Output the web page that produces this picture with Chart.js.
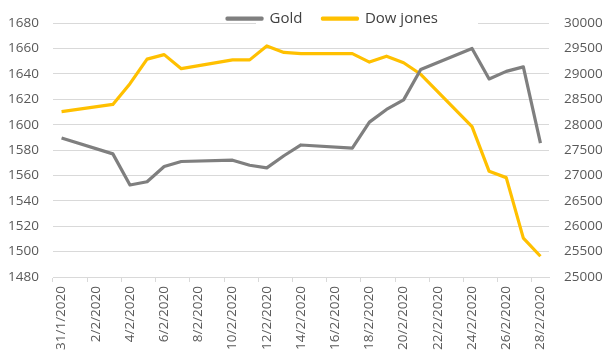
<!DOCTYPE html>
<html>
<head>
<meta charset="utf-8">
<script src="https://cdn.jsdelivr.net/npm/chart.js@4"></script>
<style>
html,body{margin:0;padding:0;background:#fff;}
#wrap{width:606px;height:356px;}
</style>
</head>
<body>
<div id="wrap"><canvas id="c" width="606" height="356"></canvas></div>
<script>
const categories = ["31/1/2020","1/2/2020","2/2/2020","3/2/2020","4/2/2020","5/2/2020","6/2/2020","7/2/2020","8/2/2020","9/2/2020","10/2/2020","11/2/2020","12/2/2020","13/2/2020","14/2/2020","15/2/2020","16/2/2020","17/2/2020","18/2/2020","19/2/2020","20/2/2020","21/2/2020","22/2/2020","23/2/2020","24/2/2020","25/2/2020","26/2/2020","27/2/2020","28/2/2020"];
const goldValues = [1589.5,null,null,1577,1552.5,1555,1567,1571,null,null,1572,1568,1566,1575.5,1584,null,null,1581.5,1602,1612,1619.5,1643.5,null,null,1660,1636,1642,1645.5,1585.5];
const dowValues = [28256,null,null,28399,28807,29290,29379,29102,null,null,29276,29276,29551,29423,29398,null,null,29398,29232,29348,29219,28992,null,null,27961,27081,26957,25766,25409];
const goldTicks = [1480,1680,20];
const dowTicks = [25000,30000,500];

const tickFont = {family:"'Open Sans'", size:13.5};
const tickColor = '#595959';
const gridColor = '#d9d9d9';

// Legend placed like the original: shifted right, with a white legend box over the top gridline
const legendShift = {
  id:'legendShift',
  beforeLayout(chart){
    const lg = chart.legend;
    if(lg && !lg._customLayers){
      lg._customLayers = true;
      lg._layers = function(){
        return [{z:1, draw(){
          const ctx = chart.ctx;
          const yTop = chart.scales.y.top;
          ctx.save();
          ctx.fillStyle = '#ffffff';
          ctx.fillRect(256, yTop - 3, 222, 6);
          ctx.restore();
          lg.draw();
        }}];
      };
    }
  },
  afterLayout(chart){
    const lg = chart.legend;
    if(lg){ lg.left += 59; lg.top -= 10; lg.bottom += 12; }
  }
};

new Chart(document.getElementById('c'), {
  type:'line',
  data:{
    labels: categories,
    datasets:[
      {label:'Gold', data:goldValues, yAxisID:'y', borderColor:'#7f7f7f', backgroundColor:'#7f7f7f', borderWidth:3.2, pointRadius:0, spanGaps:true, tension:0, borderJoinStyle:'round'},
      {label:'Dow jones', data:dowValues, yAxisID:'y1', borderColor:'#ffc000', backgroundColor:'#ffc000', borderWidth:3.2, pointRadius:0, spanGaps:true, tension:0, borderJoinStyle:'round'}
    ]
  },
  options:{
    responsive:false,
    animation:false,
    layout:{padding:0},
    plugins:{
      tooltip:{enabled:false},
      legend:{
        position:'top',
        maxHeight:22,
        labels:{font:{family:"'Open Sans'", size:15}, color:'#404040', boxWidth:35, boxHeight:1, padding:20}
      }
    },
    scales:{
      x:{
        offset:true,
        afterFit: s => { s.height = 79; },
        grid:{offset:true, drawOnChartArea:false, drawTicks:true, tickLength:5,
          color: ctx => (ctx.index % 2 === 0 || ctx.index === categories.length) ? gridColor : 'rgba(0,0,0,0)'},
        border:{display:true, color:gridColor},
        ticks:{autoSkip:false, maxRotation:90, minRotation:90, font:tickFont, color:tickColor, padding:4,
          callback:(v,i) => i % 2 === 0 ? categories[i] : ''}
      },
      y:{
        position:'left', min:goldTicks[0], max:goldTicks[1],
        afterFit: s => { s.width = 53; },
        ticks:{stepSize:goldTicks[2], font:tickFont, color:tickColor, padding:14, callback:v => String(v)},
        grid:{color:gridColor, drawTicks:false},
        border:{display:false}
      },
      y1:{
        position:'right', min:dowTicks[0], max:dowTicks[1],
        afterFit: s => { s.width = 57; },
        ticks:{stepSize:dowTicks[2], font:tickFont, color:tickColor, padding:15, callback:v => String(v)},
        grid:{display:false, drawOnChartArea:false, drawTicks:false},
        border:{display:false}
      }
    }
  },
  plugins:[legendShift]
});
</script>
</body>
</html>
